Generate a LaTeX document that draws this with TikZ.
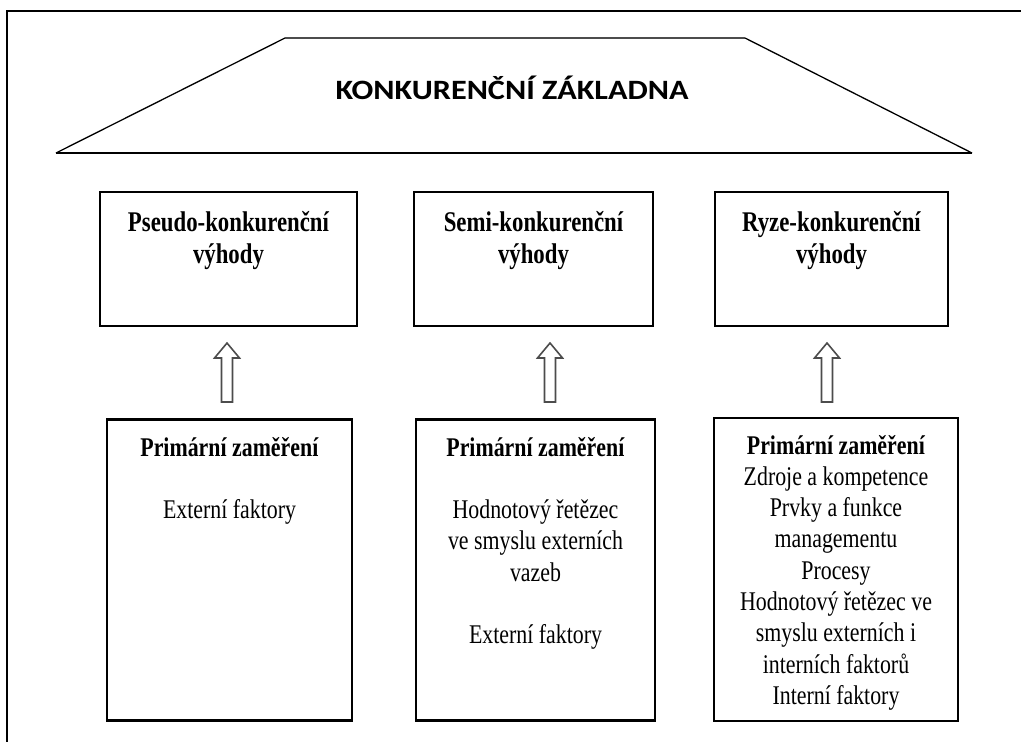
\documentclass[tikz,border=0pt]{standalone}
\usepackage{fontspec}
\setmainfont{Liberation Serif}
\newfontfamily\headfont{Carlito}
\usepackage{graphicx}
\begin{document}
\begin{tikzpicture}[x=1pt,y=-1pt,
  frame/.style={line width=1.4pt,draw=black},
  box/.style={draw=black,line width=2.2pt,inner sep=0pt,minimum width=#1},
  topbox/.style={box=#1,minimum height=134pt},
  botbox/.style={box=#1,minimum height=301pt},
  txt/.style={inner sep=0pt,anchor=base},
  hollow/.style={draw=black!70,line width=1.6pt,fill=white,line join=miter},
]
\useasboundingbox (0,0) rectangle (1021,742);
\fill[white] (0,0) rectangle (1021,742);
% outer frame (open on right and bottom)
\coordinate (fa) at (7,742);
\coordinate (fb) at (7,11);
\coordinate (fc) at (1021,11);
\draw[frame] (fa) -- (fb) -- (fc);
% roof
\coordinate (r1) at (56,153);
\coordinate (r2) at (285,38);
\coordinate (r3) at (745,38);
\coordinate (r4) at (972,153);
\draw[line width=1.3pt,line join=miter] (r1) -- (r2);
\draw[line width=2pt,draw=black!70] (r2) -- (r3);
\draw[line width=1.3pt,line join=miter] (r3) -- (r4);
\draw[line width=2.2pt] (r4) -- (r1);
\node[txt] (head) at (512,99.5) {\scalebox{1.15}[1]{\headfont\bfseries\fontsize{28}{32}\selectfont KONKURENČNÍ ZÁKLADNA}};
% top boxes
\node[topbox=257pt] (t1) at (228.5,259) {};
\node[topbox=239pt] (t2) at (533.5,259) {};
\node[topbox=233pt] (t3) at (831.5,259) {};
\newcommand{\toptext}[1]{\scalebox{0.8}[1]{\fontsize{28.5}{32}\selectfont\bfseries\begin{tabular}[t]{@{}c@{}}#1\end{tabular}}}
\newcommand{\bottext}[1]{\scalebox{0.81}[1]{\fontsize{27}{31.3}\selectfont\begin{tabular}[t]{@{}c@{}}#1\end{tabular}}}
\node[txt] (tt1) at (t1.center |- 0,231) {\toptext{Pseudo-konkurenční\\výhody}};
\node[txt] (tt2) at (t2.center |- 0,231) {\toptext{Semi-konkurenční\\výhody}};
\node[txt] (tt3) at (t3.center |- 0,231) {\toptext{Ryze-konkurenční\\výhody}};
% bottom boxes
\node[botbox=245pt] (b1) at (229.5,570) {};
\node[botbox=239pt] (b2) at (535.5,570) {};
\node[botbox=244pt,minimum height=303pt] (b3) at (836,569.5) {};
\node[txt] (bt1) at (b1.center |- 0,456) {\bottext{\textbf{Primární zaměření}\\ \\Externí faktory}};
\node[txt] (bt2) at (b2.center |- 0,456) {\bottext{\textbf{Primární zaměření}\\ \\Hodnotový řetězec\\ve smyslu externích\\vazeb\\ \\Externí faktory}};
\node[txt] (bt3) at (b3.center |- 0,454) {\bottext{\textbf{Primární zaměření}\\Zdroje a kompetence\\Prvky a funkce\\managementu\\Procesy\\Hodnotový řetězec ve\\smyslu externích i\\interních faktorů\\Interní faktory}};
% hollow arrows
\foreach \n/\xx in {1/227,2/550,3/827}{
  \coordinate (a\n) at (\xx,402);
  \draw[hollow] (a\n) ++(-5.5,0) -- ++(0,-44) -- ++(-7,0) -- ++(12.5,-15) -- ++(12.5,15) -- ++(-7,0) -- ++(0,44) -- cycle;
}
\end{tikzpicture}
\end{document}
